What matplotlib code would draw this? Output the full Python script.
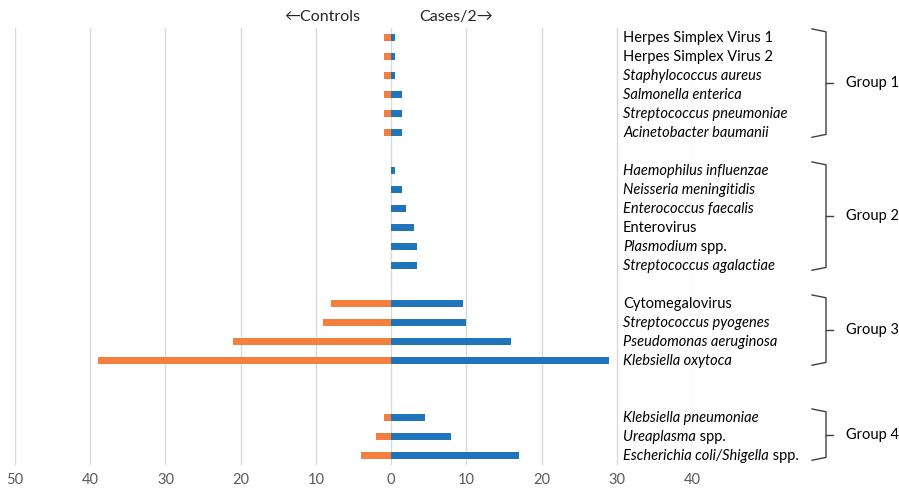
import matplotlib.pyplot as plt
from matplotlib import transforms

# organism names, *...* marks the italic part
organisms = [
    "Herpes Simplex Virus 1", "Herpes Simplex Virus 2", "*Staphylococcus aureus*",
    "*Salmonella enterica*", "*Streptococcus pneumoniae*", "*Acinetobacter baumanii*",
    "*Haemophilus influenzae*", "*Neisseria meningitidis*", "*Enterococcus faecalis*",
    "Enterovirus", "*Plasmodium* spp.", "*Streptococcus agalactiae*",
    "Cytomegalovirus", "*Streptococcus pyogenes*", "*Pseudomonas aeruginosa*",
    "*Klebsiella oxytoca*",
    "*Klebsiella pneumoniae*", "*Ureaplasma* spp.", "*Escherichia coli/Shigella* spp.",
]
controls = [1, 1, 1, 1, 1, 1, 0, 0, 0, 0, 0, 0, 8, 9, 21, 39, 1, 2, 4]
cases_half = [0.5, 0.5, 0.5, 1.5, 1.5, 1.5, 0.5, 1.5, 2, 3, 3.5, 3.5,
              9.5, 10, 16, 29, 4.5, 8, 17]
group_names = ["Group 1", "Group 2", "Group 3", "Group 4"]
group_sizes = [6, 6, 4, 3]
group_gaps = [1, 1, 2]
xticks = [-50, -40, -30, -20, -10, 0, 10, 20, 30, 40]

BLUE = "#1F74BC"
ORANGE = "#F47F3E"
FONT = ["Lato", "DejaVu Sans"]
plt.rcParams["font.family"] = FONT

# row positions with blank rows between groups
rows = []
group_spans = []
r = 0
for g, n in enumerate(group_sizes):
    group_spans.append((r, r + n - 1))
    rows += list(range(r, r + n))
    r += n
    if g < len(group_gaps):
        r += group_gaps[g]

fig = plt.figure(figsize=(8.99, 4.93), dpi=100)
ax = fig.add_axes([15 / 899, 1 - 465 / 493, 677 / 899, 437 / 493])

ax.barh(rows, [-c for c in controls], height=0.42, color=ORANGE, zorder=3)
ax.barh(rows, cases_half, height=0.42, color=BLUE, zorder=3)

ax.set_xlim(-50, 40)
ax.set_ylim(r - 0.5, -0.5)
ax.set_xticks(xticks)
ax.set_xticklabels([str(abs(t)) for t in xticks], fontsize=10.5, color="#595959")
ax.tick_params(axis="x", length=0, pad=6)
ax.set_yticks([])
ax.grid(axis="x", color="#D9D9D9", linewidth=1, zorder=0)
for s in ax.spines.values():
    s.set_visible(False)

fig.text(360 / 899, 1 - 17 / 493, "\u2190Controls", ha="right", va="center",
         fontsize=11.5, color="#262626")
fig.text(419 / 899, 1 - 17 / 493, "Cases/2\u2192", ha="left", va="center",
         fontsize=11.5, color="#262626")

# organism labels, italic and roman pieces placed one after another on a shared baseline
tr = transforms.blended_transform_factory(fig.transFigure, ax.transData)
renderer = fig.canvas.get_renderer()
W = fig.bbox.width
for name, y in zip(organisms, rows):
    parts = name.split("*")
    x = 623 / W
    for i, p in enumerate(parts):
        if p == "":
            continue
        style = "italic" if i % 2 == 1 else "normal"
        t = ax.text(x, y + 0.25, p, transform=tr, ha="left", va="baseline",
                    fontsize=10.5, style=style, color="black")
        x += t.get_window_extent(renderer).width / W

# brackets and group names
for gname, (a, b) in zip(group_names, group_spans):
    top = a - 0.45
    bot = b + 0.25
    mid = (top + bot) / 2
    x0, x1, x2 = 812 / 899, 826 / 899, 833 / 899
    ax.plot([x0, x1, x1, x0], [top, top + 0.15, bot - 0.15, bot], transform=tr,
            color="#404040", linewidth=1, clip_on=False)
    ax.plot([x1, x2], [mid, mid], transform=tr, color="#404040", linewidth=1,
            clip_on=False)
    ax.text(846 / 899, mid, gname, transform=tr, ha="left", va="center",
            fontsize=10.5, color="black")

fig.savefig("out.png", dpi=100)
